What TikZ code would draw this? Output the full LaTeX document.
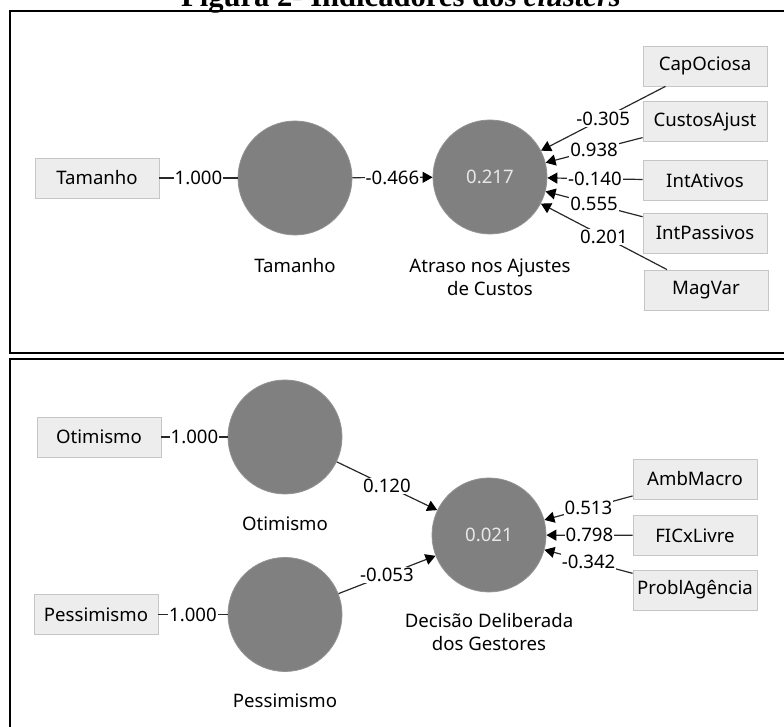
\documentclass[tikz,border=0pt]{standalone}
\usepackage{fontspec}
\setmainfont{Noto Sans}
\newfontfamily\titlefont{Liberation Serif}
\usetikzlibrary{arrows.meta, positioning}
\definecolor{lvgray}{RGB}{128,128,128}
\definecolor{boxfill}{RGB}{237,237,237}
\definecolor{boxline}{RGB}{198,198,198}
\definecolor{linkgray}{RGB}{40,40,40}
\definecolor{lvtext}{RGB}{232,232,232}

\begin{document}
\begin{tikzpicture}[x=0.5pt, y=0.5pt,
  every node/.style={font=\fontsize{9.3}{11.5}\selectfont},
  ind/.style={draw=boxline, fill=boxfill, minimum width=62pt, minimum height=20pt, inner sep=1pt},
  latent/.style={circle, fill=lvgray, draw=lvgray!85, minimum size=57pt, inner sep=0pt, text=lvtext},
  lvname/.style={align=center, inner sep=0pt},
  link/.style={draw=linkgray, line width=0.6pt},
  effect/.style={link, -{Triangle[length=5pt, width=5.5pt, color=black]}},
  coef/.style={fill=white, inner sep=0.6pt}
]

\useasboundingbox (0,0) rectangle (784,727);

% Title (cut at the top edge)
\node[anchor=base, font=\titlefont\fontsize{15.3}{17}\selectfont\bfseries] (title) at (401,720) {Figura 2- Indicadores dos \textit{clusters}};

% Frames
\draw[line width=1pt] (9.5,716) rectangle (800,374);
\draw[line width=1pt] (10,368) rectangle (800,-20);

% Upper model: latent variables
\node[latent] (lvTam) at (295,549) {};
\node[latent] (lvAtr) at (490,550) {0.217};
\node[lvname, below=15pt of lvTam, anchor=center] (nmTam) {Tamanho};
\node[lvname, below=21.5pt of lvAtr, anchor=center] (nmAtr) {Atraso nos Ajustes\\de Custos};

% Upper model: indicators
\node[ind] (tam) at (97,549) {Tamanho};
\node[ind] (cap) at (705,661) {CapOciosa};
\node[ind] (cus) at (705,605.5) {CustosAjust};
\node[ind] (iat) at (705,546.5) {IntAtivos};
\node[ind] (ipa) at (705,494) {IntPassivos};
\node[ind] (mag) at (706,437) {MagVar};

% Upper model: paths
\draw[link] (tam) -- node[coef] {1.000} (lvTam);
\draw[effect] (lvTam) -- node[coef] {-0.466} (lvAtr);
\foreach \ind/\val in {cap/-0.305, cus/0.938, iat/-0.140, ipa/0.555, mag/0.201}
  \draw[effect] (\ind) -- node[coef] {\val} (lvAtr);

% Lower model: latent variables
\node[latent] (lvOti) at (285,290) {};
\node[latent] (lvPes) at (285,112.5) {};
\node[latent] (lvDec) at (489,192) {0.021};
\node[lvname, below=14.5pt of lvOti, anchor=center] (nmOti) {Otimismo};
\node[lvname, below=14.5pt of lvPes, anchor=center] (nmPes) {Pessimismo};
\node[lvname, below=20pt of lvDec, anchor=center] (nmDec) {Decisão Deliberada\\dos Gestores};

% Lower model: indicators
\node[ind] (oti) at (99,290) {Otimismo};
\node[ind] (pes) at (96,112.5) {Pessimismo};
\node[ind] (amb) at (695,248) {AmbMacro};
\node[ind] (fic) at (695,191.5) {FICxLivre};
\node[ind] (pag) at (695,137) {ProblAgência};

% Lower model: paths
\draw[link] (oti) -- node[coef] {1.000} (lvOti);
\draw[link] (pes) -- node[coef] {1.000} (lvPes);
\draw[effect] (lvOti) -- node[coef] {0.120} (lvDec);
\draw[effect] (lvPes) -- node[coef] {-0.053} (lvDec);
\foreach \ind/\val in {amb/0.513, fic/0.798, pag/-0.342}
  \draw[effect] (\ind) -- node[coef] {\val} (lvDec);

\end{tikzpicture}
\end{document}
